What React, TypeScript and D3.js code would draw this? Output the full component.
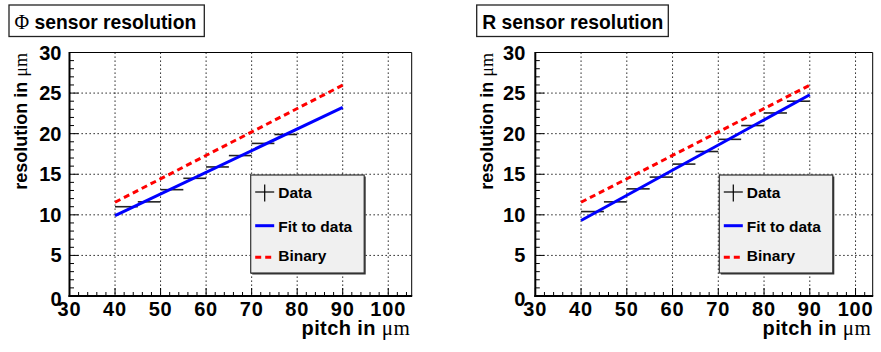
import React from "react";
import * as d3 from "d3";

// ---- data ----
const phiPitchCenters = [42.5, 47.5, 52.5, 57.5, 62.5, 67.5, 72.5, 77.5];
const rPitchCenters = [42.5, 47.5, 52.5, 57.5, 62.5, 67.5, 72.5, 77.5, 82.5, 87.5];
const pitchHalfWidth = 2.5;
const phiResolution = [11.0, 11.6, 13.1, 14.5, 15.9, 17.3, 18.8, 19.9];
const rResolution = [10.4, 11.6, 13.2, 14.65, 16.25, 17.8, 19.3, 21.0, 22.55, 24.0];
const fitPitch = [40, 90];
const phiFit = [9.9, 23.25];
const rFit = [9.3, 24.8];
const binaryRes = [11.55, 25.98];
const xTicks = [30, 40, 50, 60, 70, 80, 90, 100];
const yTicks = [0, 5, 10, 15, 20, 25, 30];
const legendLabels = ["Data", "Fit to data", "Binary"];
const titleSymbols = ["Φ", ""];
const titleTexts = [" sensor resolution", "R sensor resolution"];
const xTitle = "pitch in ";
const yTitle = "resolution in ";
const unit = "μm";

const FONT = "'Liberation Sans', Arial, Helvetica, sans-serif";

type PanelProps = {
  ox: number;
  x0: number;
  x1: number;
  xMax: number;
  yLabelGap: number;
  titleBox: [number, number];
  legendX: number;
  symbol: string;
  title: string;
  centers: number[];
  res: number[];
  fit: number[];
};

function Panel(p: PanelProps) {
  const top = 52.5;
  const bottom = 296;
  const x = d3.scaleLinear().domain([30, p.xMax]).range([p.x0, p.x1]);
  const y = d3.scaleLinear().domain([0, 30]).range([bottom, top]);
  const line = d3
    .line<[number, number]>()
    .x((d) => x(d[0]))
    .y((d) => y(d[1]));
  const fitPts: [number, number][] = fitPitch.map((v, i) => [v, p.fit[i]]);
  const binPts: [number, number][] = fitPitch.map((v, i) => [v, binaryRes[i]]);
  const xMinor = d3.range(30, p.xMax + 0.001, 2);
  const yMinor = d3.range(0, 30.001, 1);
  const gridX = xTicks.filter((t) => t > 30);
  const gridY = yTicks.filter((t) => t > 0 && t < 30);
  const lx = p.legendX;
  const ly = 175;
  const lw = 113.5;
  const lh = 98;
  return (
    <g>
      {/* title box */}
      <rect
        x={p.titleBox[0]}
        y={5}
        width={p.titleBox[1] - p.titleBox[0]}
        height={31.5}
        fill="white"
        stroke="#222"
        strokeWidth={1.3}
      />
      <text
        x={p.titleBox[0] + 5.5}
        y={29}
        fontFamily={FONT}
        fontWeight="bold"
        fontSize={19.3}
        fill="black"
      >
        {p.symbol ? (
          <tspan fontFamily="'Liberation Serif', serif" fontWeight="normal" fontSize={20}>
            {p.symbol}
          </tspan>
        ) : null}
        {p.title}
      </text>
      {/* grid */}
      {gridX.map((t) => (
        <line
          key={"gx" + t}
          x1={x(t)}
          x2={x(t)}
          y1={top}
          y2={bottom}
          stroke="black"
          strokeWidth={1}
          strokeDasharray="1.3 2.7"
        />
      ))}
      {gridY.map((t) => (
        <line
          key={"gy" + t}
          x1={p.x0}
          x2={p.x1}
          y1={y(t)}
          y2={y(t)}
          stroke="black"
          strokeWidth={1}
          strokeDasharray="1.3 2.7"
        />
      ))}
      {/* data */}
      {p.centers.map((c, i) => (
        <line
          key={"d" + i}
          x1={x(c - pitchHalfWidth)}
          x2={x(c + pitchHalfWidth)}
          y1={y(p.res[i])}
          y2={y(p.res[i])}
          stroke="#222"
          strokeWidth={1.6}
        />
      ))}
      <path d={line(fitPts) || ""} fill="none" stroke="#0000ff" strokeWidth={3} />
      <path
        d={line(binPts) || ""}
        fill="none"
        stroke="#ff0000"
        strokeWidth={3}
        strokeDasharray="6 4"
      />
      {/* ticks */}
      {xMinor.map((t) => {
        const major = t % 10 === 0;
        return (
          <line
            key={"xt" + t}
            x1={x(t)}
            x2={x(t)}
            y1={bottom}
            y2={bottom - (major ? 8 : 4)}
            stroke="black"
            strokeWidth={1}
          />
        );
      })}
      {yMinor.map((t) => {
        const major = t % 5 === 0;
        return (
          <line
            key={"yt" + t}
            x1={p.x0}
            x2={p.x0 + (major ? 9 : 4.5)}
            y1={y(t)}
            y2={y(t)}
            stroke="black"
            strokeWidth={1}
          />
        );
      })}
      {/* frame */}
      <line x1={p.x0} x2={p.x1} y1={top} y2={top} stroke="black" strokeWidth={1} />
      <line x1={p.x1} x2={p.x1} y1={top} y2={bottom} stroke="black" strokeWidth={1} />
      <line x1={p.x0} x2={p.x0} y1={top - 0.5} y2={bottom + 1} stroke="black" strokeWidth={2} />
      <line x1={p.x0 - 1} x2={p.x1 + 0.5} y1={bottom} y2={bottom} stroke="black" strokeWidth={2} />
      {/* tick labels */}
      {yTicks.map((t) => (
        <text
          key={"yl" + t}
          x={p.x0 - p.yLabelGap}
          y={y(t) + (t === 0 ? 10 : 7)}
          textAnchor="end"
          fontFamily={FONT}
          fontWeight="bold"
          fontSize={20}
        >
          {t}
        </text>
      ))}
      {xTicks.map((t) => (
        <text
          key={"xl" + t}
          x={x(t)}
          y={315.5}
          textAnchor="middle"
          fontFamily={FONT}
          fontWeight="bold"
          fontSize={20}
          letterSpacing={0.8}
        >
          {t}
        </text>
      ))}
      {/* axis titles */}
      <text
        x={p.x1 - 1.5}
        y={335}
        textAnchor="end"
        fontFamily={FONT}
        fontWeight="bold"
        fontSize={20}
        letterSpacing={0.4}
      >
        {xTitle}
        <tspan fontFamily="'Liberation Serif', serif" fontWeight="normal" fontSize={21}>
          {unit}
        </tspan>
      </text>
      <text
        transform={`translate(${p.ox + 26.5},53) rotate(-90)`}
        textAnchor="end"
        fontFamily={FONT}
        fontWeight="bold"
        fontSize={18}
      >
        {yTitle}
        <tspan fontFamily="'Liberation Serif', serif" fontWeight="normal">
          {unit}
        </tspan>
      </text>
      {/* legend */}
      <rect x={lx + 1.5} y={ly + 1.5} width={lw} height={lh} fill="#333" />
      <rect x={lx} y={ly} width={lw} height={lh} fill="#f0f0f0" stroke="#333" strokeWidth={1.2} />
      <line x1={lx + 4.5} x2={lx + 23.5} y1={192} y2={192} stroke="black" strokeWidth={1.2} />
      <line x1={lx + 14} x2={lx + 14} y1={184.5} y2={201.5} stroke="black" strokeWidth={1.2} />
      <line x1={lx + 4.5} x2={lx + 23.5} y1={225.7} y2={225.7} stroke="#0000ff" strokeWidth={3} />
      <line
        x1={lx + 4.5}
        x2={lx + 23.5}
        y1={257.3}
        y2={257.3}
        stroke="#ff0000"
        strokeWidth={3}
        strokeDasharray="6 4"
      />
      {legendLabels.map((l, i) => (
        <text
          key={"lg" + i}
          x={lx + 27.5}
          y={[197.5, 231.5, 261][i]}
          fontFamily={FONT}
          fontWeight="bold"
          fontSize={15.5}
        >
          {l}
        </text>
      ))}
    </g>
  );
}

export default function App() {
  return (
    <div style={{ position: "absolute", left: 0, top: 0 }}>
      <svg width={881} height={352} style={{ display: "block", background: "white" }}>
        <rect x={0} y={0} width={881} height={352} fill="white" />
        <Panel
          ox={0}
          x0={69.5}
          x1={411.7}
          xMax={105.15}
          yLabelGap={8}
          titleBox={[9, 204.3]}
          legendX={250.7}
          symbol={titleSymbols[0]}
          title={titleTexts[0]}
          centers={phiPitchCenters}
          res={phiResolution}
          fit={phiFit}
        />
        <Panel
          ox={466.5}
          x0={535.3}
          x1={872.7}
          xMax={103.75}
          yLabelGap={10}
          titleBox={[476.7, 668.3]}
          legendX={719.3}
          symbol={titleSymbols[1]}
          title={titleTexts[1]}
          centers={rPitchCenters}
          res={rResolution}
          fit={rFit}
        />
      </svg>
    </div>
  );
}
